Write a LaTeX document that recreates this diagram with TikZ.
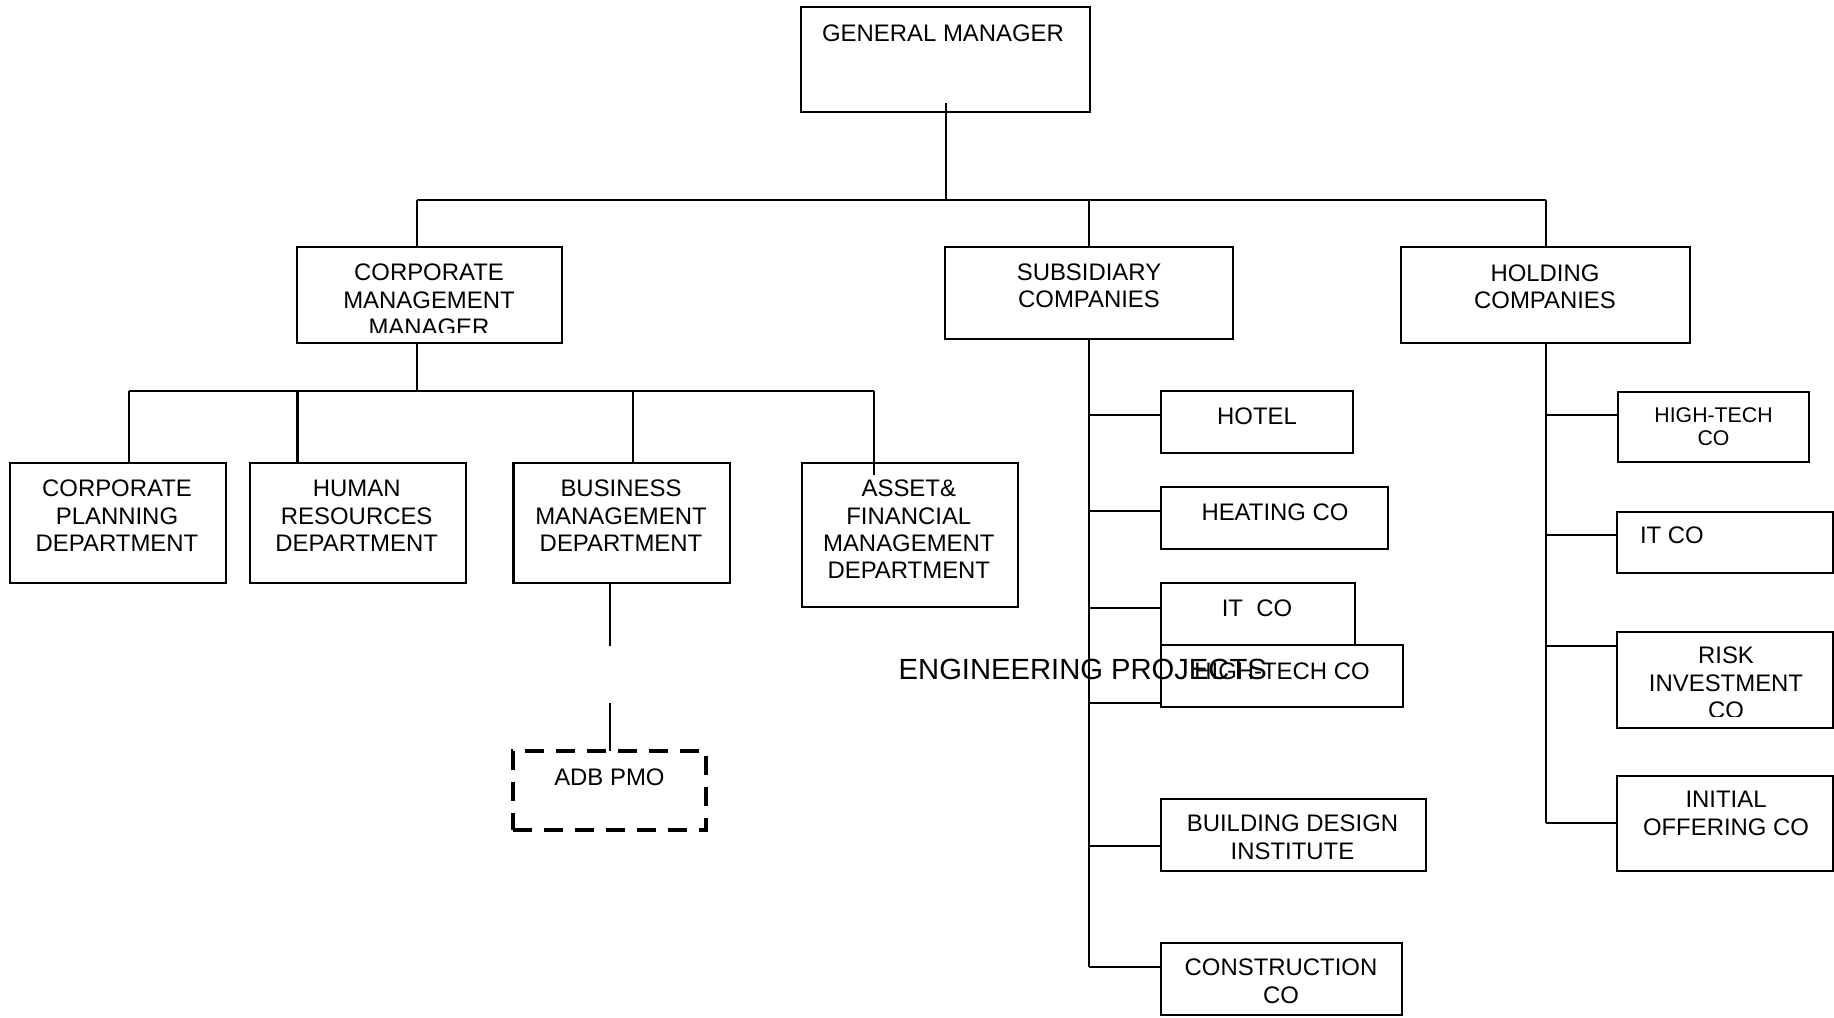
\documentclass[tikz,border=0pt]{standalone}
\usepackage{fontspec}
\setmainfont{Liberation Sans}
\begin{document}
\begin{tikzpicture}[x=0.01cm,y=-0.01cm,
  box/.style={draw, line width=0.6pt, inner sep=0pt, outer sep=0pt, anchor=north west},
  pmo/.style={box, line width=1.2pt, dash pattern=on 0.19cm off 0.12cm},
  lbl/.style={anchor=north, inner sep=0pt, align=center, font=\fontsize{6.8}{7.8}\selectfont},
  lblsm/.style={lbl, font=\fontsize{6.05}{6.6}\selectfont},
  lbleng/.style={anchor=base west, inner sep=0pt, font=\fontsize{8.3}{9.5}\selectfont},
  wire/.style={line width=0.6pt}]
\useasboundingbox (0,0) rectangle (1834,1017);

% ---- boxes ----
\node[box, minimum width=2.89cm, minimum height=1.05cm] (gm)   at (801,7) {};
\node[box, minimum width=2.65cm, minimum height=0.96cm] (cmm)  at (297,247) {};
\node[box, minimum width=2.88cm, minimum height=0.92cm] (sub)  at (945,247) {};
\node[box, minimum width=2.89cm, minimum height=0.96cm] (hold) at (1401,247) {};

\node[box, minimum width=2.16cm, minimum height=1.20cm] (cpd) at (10,463) {};
\node[box, minimum width=2.16cm, minimum height=1.20cm] (hrd) at (250,463) {};
\node[box, minimum width=2.16cm, minimum height=1.20cm] (bmd) at (513.5,463) {};
\node[box, minimum width=2.16cm, minimum height=1.44cm] (afd) at (802,463) {};
\node[pmo, minimum width=1.93cm, minimum height=0.79cm] (adb) at (513,751) {};

\node[box, minimum width=1.92cm, minimum height=0.62cm] (hotel) at (1161,391) {};
\node[box, minimum width=2.27cm, minimum height=0.62cm] (heat)  at (1161,487) {};
\node[box, minimum width=1.94cm, minimum height=0.62cm] (itco)  at (1161,583) {};
\node[box, minimum width=2.42cm, minimum height=0.62cm] (htco)  at (1161,645) {};
\node[box, minimum width=2.65cm, minimum height=0.72cm] (bdi)   at (1161,799) {};
\node[box, minimum width=2.41cm, minimum height=0.72cm] (con)   at (1161,943) {};

\node[box, minimum width=1.91cm, minimum height=0.70cm] (hht)  at (1618,392) {};
\node[box, minimum width=2.16cm, minimum height=0.61cm] (hit)  at (1617,512) {};
\node[box, minimum width=2.16cm, minimum height=0.96cm] (risk) at (1617,632) {};
\node[box, minimum width=2.16cm, minimum height=0.95cm] (ipo)  at (1617,776) {};

% ---- labels ----
\node[lbl] (gm-t) at (943,21.4) {\strut GENERAL MANAGER};
\begin{scope}
  \clip (297,247) rectangle (562,332);
  \node[lbl] (cmm-t) at (429,260.7) {\strut CORPORATE\\MANAGEMENT\\MANAGER};
\end{scope}
\node[lbl] (sub-t)  at (1089,260.2) {\strut SUBSIDIARY\\COMPANIES};
\node[lbl] (hold-t) at (1545,261.4) {\strut HOLDING\\COMPANIES};

\node[lbl] (cpd-t) at (117,476.7)   {\strut CORPORATE\\PLANNING\\DEPARTMENT};
\node[lbl] (hrd-t) at (356.7,476.7) {\strut HUMAN\\RESOURCES\\DEPARTMENT};
\node[lbl] (bmd-t) at (621,476.7)   {\strut BUSINESS\\MANAGEMENT\\DEPARTMENT};
\node[lbl] (afd-t) at (908.8,476.7) {\strut ASSET\&\\FINANCIAL\\MANAGEMENT\\DEPARTMENT};
\node[lbl] (adb-t) at (609.4,765.7) {\strut ADB PMO};

\node[lbl] (hotel-t) at (1257,404.1) {\strut HOTEL};
\node[lbl] (heat-t)  at (1275,500.2) {\strut HEATING CO};
\node[lbl] (itco-t)  at (1257,596.2) {\strut IT\ \ CO};
\node[lbleng] (eng-t) at (898,679.3) {ENGINEERING PROJECTS};
\node[lbl] (htco-t)  at (1282,659.7) {\strut HIGH-TECH CO};
\node[lbl] (bdi-t)   at (1292.5,811.7) {\strut BUILDING DESIGN\\INSTITUTE};
\node[lbl] (con-t)   at (1281,955.7) {\strut CONSTRUCTION\\CO};

\node[lblsm] (hht-t) at (1713.5,405.4) {\strut HIGH-TECH\\CO};
\node[lbl, anchor=north west] (hit-t) at (1639.3,524) {\strut IT CO};
\begin{scope}
  \clip (1617,632) rectangle (1833,716);
  \node[lbl] (risk-t) at (1726,644) {\strut RISK\\INVESTMENT\\CO};
\end{scope}
\node[lbl] (ipo-t) at (1726,788) {\strut INITIAL\\OFFERING CO};

% ---- junction points ----
\coordinate (gmstub) at (945.7,103);
\coordinate (top)    at (945.7,200);
\coordinate (tl)     at (417,200);
\coordinate (tm)     at (1089,200);
\coordinate (tr)     at (1545.7,200);
\coordinate (cmmx)   at (417,390.7);
\coordinate (b1)     at (129,390.7);
\coordinate (b2)     at (297.5,390.7);
\coordinate (b3)     at (633,390.7);
\coordinate (b4)     at (874,390.7);
\coordinate (afdin)  at (874,475);
\coordinate (bmx)    at (610,583);
\coordinate (bmgap1) at (610,646);
\coordinate (bmgap2) at (610,703);
\coordinate (s1) at (1089,415.2);
\coordinate (s2) at (1089,511);
\coordinate (s3) at (1089,607.7);
\coordinate (s4) at (1089,703.3);
\coordinate (s5) at (1089,846);
\coordinate (s6) at (1089,967);
\coordinate (h1) at (1545.7,415);
\coordinate (h2) at (1545.7,535);
\coordinate (h3) at (1545.7,645.7);
\coordinate (h4) at (1545.7,822.7);

% ---- connectors ----
\draw[wire] (gmstub) -- (top);
\draw[wire] (tl) -- (tr);
\draw[wire] (tl) -- (tl |- cmm.north);
\draw[wire] (tm) -- (tm |- sub.north);
\draw[wire] (tr) -- (tr |- hold.north);

\draw[wire] (cmmx |- cmm.south) -- (cmmx);
\draw[wire] (b1) -- (b4);
\draw[wire] (b1) -- (b1 |- cpd.north);
\draw[wire] (b2) -- (b2 |- hrd.north);
\draw[wire] (b3) -- (b3 |- bmd.north);
\draw[wire] (b4) -- (afdin);

\draw[wire] (bmx |- bmd.south) -- (bmgap1);
\draw[wire] (bmgap2) -- (bmgap2 |- adb.north);

\draw[wire] (tm |- sub.south) -- (s6);
\draw[wire] (s1) -- (s1 -| hotel.west);
\draw[wire] (s2) -- (s2 -| heat.west);
\draw[wire] (s3) -- (s3 -| itco.west);
\draw[wire] (s4) -- (s4 -| htco.west);
\draw[wire] (s5) -- (s5 -| bdi.west);
\draw[wire] (s6) -- (s6 -| con.west);

\draw[wire] (tr |- hold.south) -- (h4);
\draw[wire] (h1) -- (h1 -| hht.west);
\draw[wire] (h2) -- (h2 -| hit.west);
\draw[wire] (h3) -- (h3 -| risk.west);
\draw[wire] (h4) -- (h4 -| ipo.west);
\end{tikzpicture}
\end{document}
